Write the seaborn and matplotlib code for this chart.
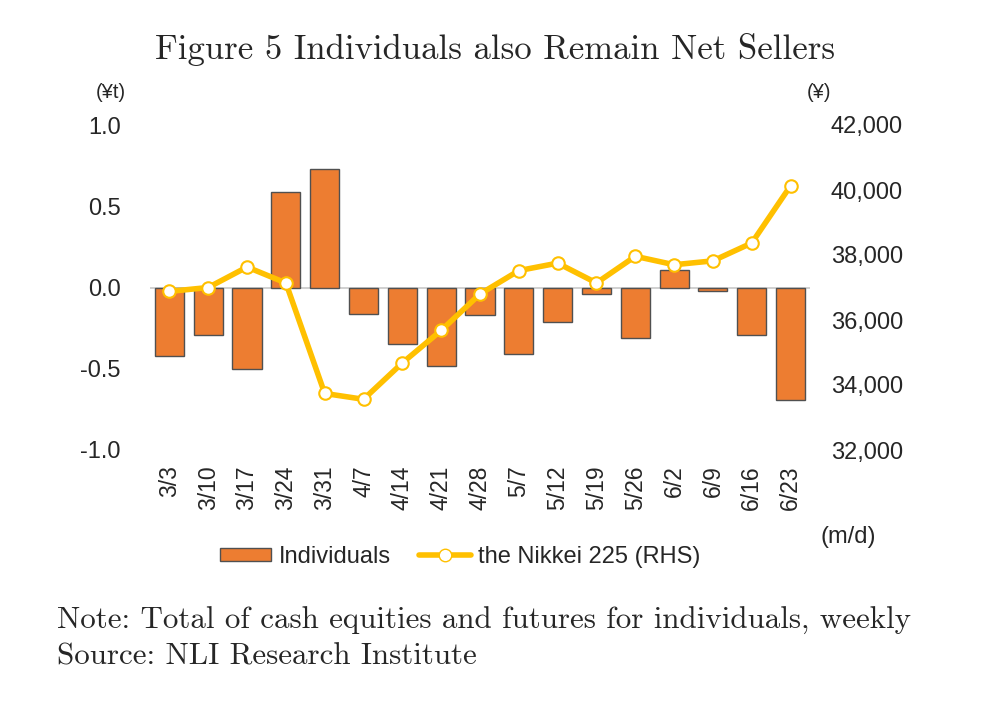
import numpy as np
import pandas as pd
import matplotlib
matplotlib.use("Agg")
import matplotlib.pyplot as plt
from matplotlib.lines import Line2D
from matplotlib.patches import Patch
from matplotlib.ticker import FuncFormatter
import seaborn as sns

# ----------------------------------------------------------
# Data
# ----------------------------------------------------------

weeks = ["3/3", "3/10", "3/17", "3/24", "3/31", "4/7", "4/14", "4/21", "4/28",
         "5/7", "5/12", "5/19", "5/26", "6/2", "6/9", "6/16", "6/23"]

# net buying by individuals (trillion yen)
individuals = [-0.42, -0.29, -0.50, 0.59, 0.73, -0.16, -0.35, -0.48, -0.17,
               -0.41, -0.21, -0.04, -0.31, 0.11, -0.02, -0.29, -0.69]

# Nikkei 225 (yen)
nikkei = [36880, 37000, 37630, 37140, 33740, 33560, 34680, 35680, 36800,
          37520, 37750, 37140, 37960, 37700, 37820, 38370, 40130]

left_ticks = [1.0, 0.5, 0.0, -0.5, -1.0]
right_ticks = [32000, 34000, 36000, 38000, 40000, 42000]

df = pd.DataFrame({"week": weeks, "individuals": individuals, "nikkei": nikkei,
                   "pos": np.arange(len(weeks))})

BAR_COLOR = "#ED7D31"
LINE_COLOR = "#FFC000"
SANS = ["Liberation Sans", "DejaVu Sans"]
SERIF = ["cmr10", "DejaVu Serif"]

sns.set_style("white")
plt.rcParams["font.family"] = SANS

# ----------------------------------------------------------
# Figure
# ----------------------------------------------------------

fig = plt.figure(figsize=(9.87, 7.09), dpi=100)
ax = fig.add_axes([150 / 987, 1 - 450 / 709, 660 / 987, 325 / 709])

sns.barplot(data=df, x="week", y="individuals", color=BAR_COLOR, width=0.75,
            edgecolor="#505050", linewidth=1.0, saturation=1, ax=ax)
ax.axhline(0, color="#C8C8C8", lw=1.2, zorder=0.5)
ax.set_ylim(-1, 1)
ax.set_xlim(-0.5, len(weeks) - 0.5)
ax.set_yticks(left_ticks)
ax.set_yticklabels([f"{t:.1f}" for t in left_ticks])
ax.set_xlabel("")
ax.set_ylabel("")
ax.tick_params(axis="x", labelrotation=90, length=0, pad=11, labelsize=16.5)
ax.tick_params(axis="y", length=0, pad=21, labelsize=17)
for lab in ax.get_xticklabels():
    lab.set_verticalalignment("top")
for s in ax.spines.values():
    s.set_visible(False)

ax2 = ax.twinx()
sns.lineplot(data=df, x="pos", y="nikkei", color=LINE_COLOR, lw=4, marker="o",
             markersize=9, markerfacecolor="white", markeredgecolor=LINE_COLOR,
             markeredgewidth=1.5, ax=ax2)
ax2.set_ylim(32000, 42000)
ax2.set_yticks(right_ticks)
ax2.yaxis.set_major_formatter(FuncFormatter(lambda v, p: f"{int(v):,}"))
ax2.set_xlabel("")
ax2.set_ylabel("")
ax2.tick_params(axis="y", length=0, pad=15, labelsize=17)
for s in ax2.spines.values():
    s.set_visible(False)

# unit labels
fig.text(96 / 987, 1 - 92 / 709, "(¥t)", fontsize=14.5, va="center", ha="left")
fig.text(807 / 987, 1 - 92 / 709, "(¥)", fontsize=14.5, va="center", ha="left")
fig.text(820 / 987, 1 - 537 / 709, "(m/d)", fontsize=17, va="center", ha="left")

# legend
handles = [
    Patch(facecolor=BAR_COLOR, edgecolor="#505050", lw=1.0, label="Individuals"),
    Line2D([0], [0], color=LINE_COLOR, lw=4, marker="o", markersize=9,
           markerfacecolor="white", markeredgecolor=LINE_COLOR,
           label="the Nikkei 225 (RHS)"),
]
fig.legend(handles=handles, loc="center", bbox_to_anchor=(460 / 987, 1 - 557 / 709),
           ncol=2, frameon=False, fontsize=17, handlelength=2.2, handleheight=0.5,
           handletextpad=0.3, columnspacing=1.2, borderaxespad=0)

# title and notes
fig.text(495 / 987, 1 - 50 / 709, "Figure 5 Individuals also Remain Net Sellers",
         family=SERIF, fontsize=25, ha="center", va="center")
fig.text(57 / 987, 1 - 621 / 709,
         "Note: Total of cash equities and futures for individuals, weekly",
         family=SERIF, fontsize=22.3, ha="left", va="center")
fig.text(57 / 987, 1 - 657 / 709, "Source: NLI Research Institute",
         family=SERIF, fontsize=22.3, ha="left", va="center")

fig.savefig("out.png", dpi=100)
